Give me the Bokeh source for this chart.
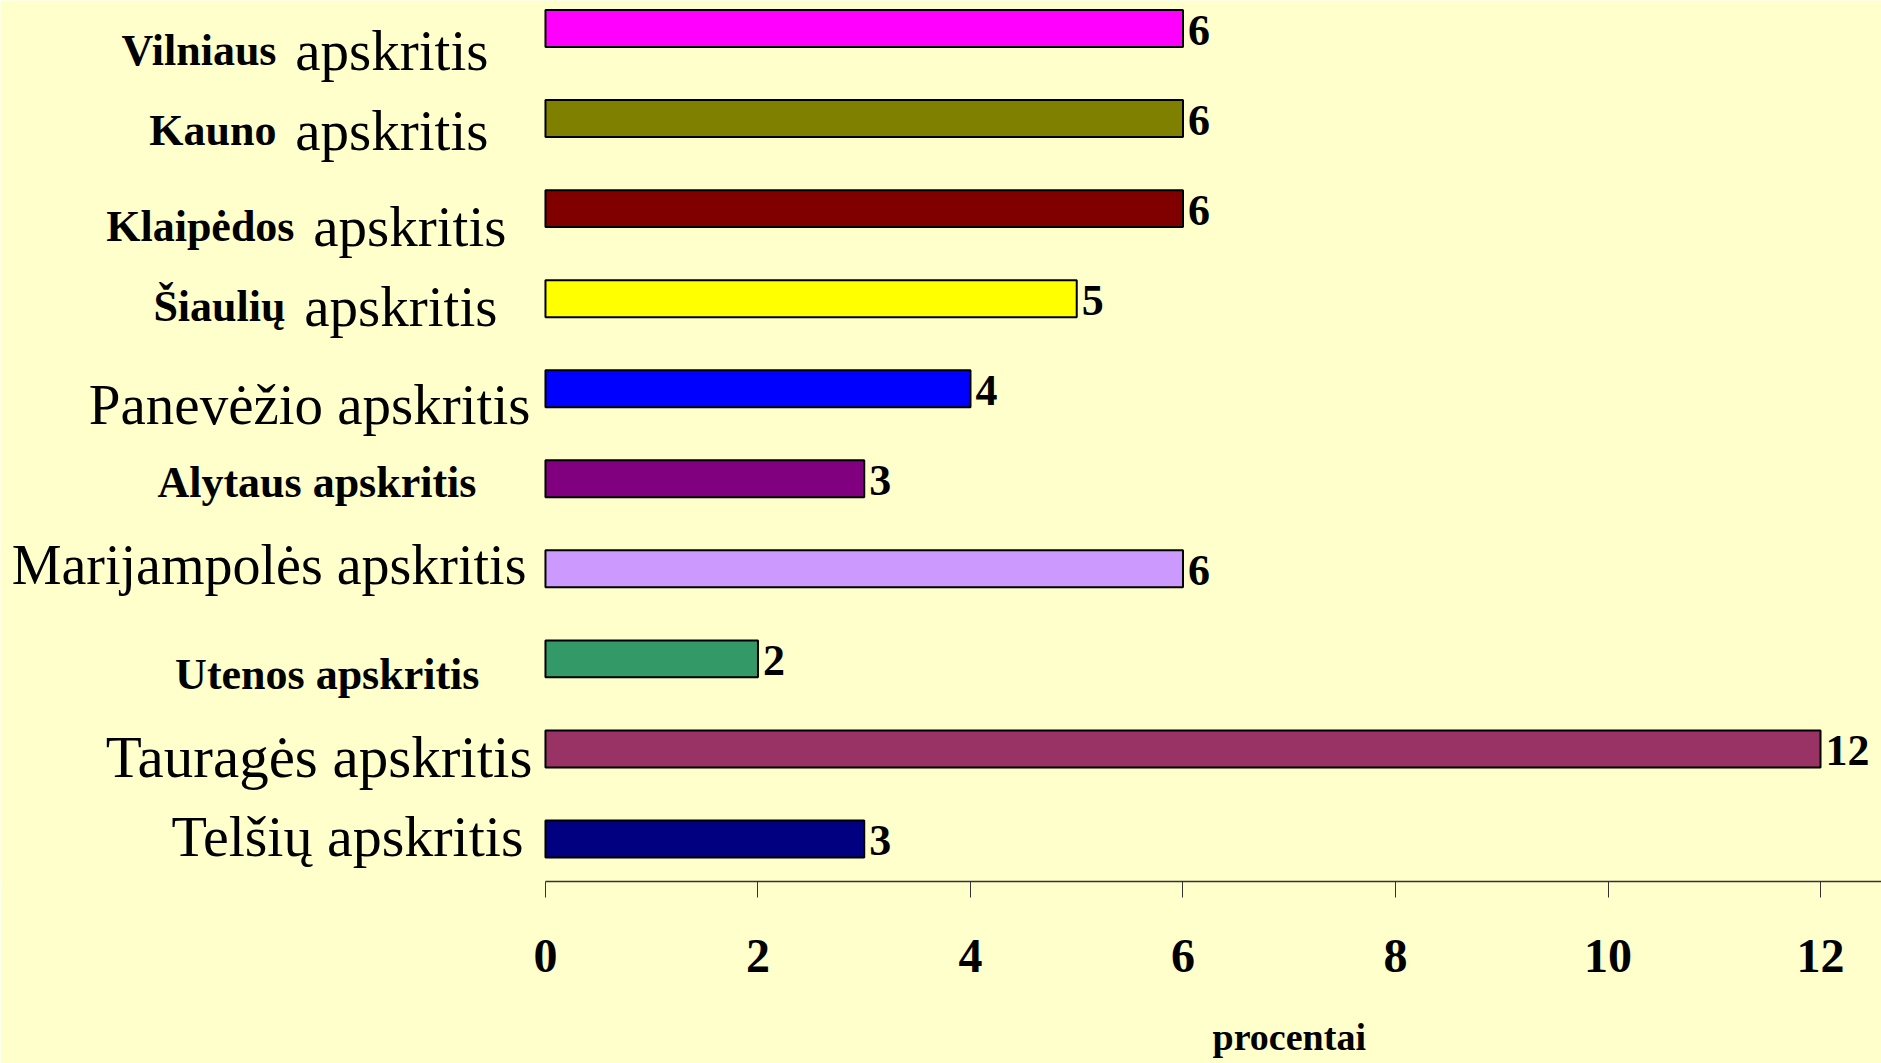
from bokeh.plotting import figure
from bokeh.models import ColumnDataSource, Range1d, FixedTicker, LinearAxis
from bokeh.core.properties import value
from bokeh.embed import file_html
from bokeh.resources import INLINE

# ---------------- data ----------------
regions = ["Vilniaus apskritis", "Kauno apskritis", "Klaipėdos apskritis",
           "Šiaulių apskritis", "Panevėžio apskritis", "Alytaus apskritis",
           "Marijampolės apskritis", "Utenos apskritis", "Tauragės apskritis",
           "Telšių apskritis"]
values = [6, 6, 6, 5, 4, 3, 6, 2, 12, 3]
bar_colors = ["#FF00FF", "#808000", "#800000", "#FFFF00", "#0000FF",
              "#800080", "#CC99FF", "#339966", "#993366", "#000080"]
# typography of the category names in the original (bold part / regular part)
bold_part = ["Vilniaus", "Kauno", "Klaipėdos", "Šiaulių", "",
             "Alytaus apskritis", "", "Utenos apskritis", "", ""]
regular_part = ["apskritis", "apskritis", "apskritis", "apskritis",
                "Panevėžio apskritis", "", "Marijampolės apskritis", "",
                "Tauragės apskritis", "Telšių apskritis"]
x_ticks = [0, 2, 4, 6, 8, 10, 12]
x_title = "procentai"

# ---------------- layout / style (not data) ----------------
label_right = [-57, -57, -39, -48, -15, -69, -19, -66, -13, -22]  # px from x=0
label_dy = [22, 12, 18, 8, 16, 4, -4, 16, 8, -2]                  # px downward
reg_size = ["57px", "57px", "57px", "57px", "57px", "57px", "56px", "57px",
            "59px", "58px"]
REG_WORD_W = 212  # width of " apskritis" in regular 57px serif
TITLE_AT = 7.0    # where the axis title is centred (x units)

n = len(regions)
pos = list(range(n - 1, -1, -1))

BG = "#FFFFCC"
X_END = 12.574
p = figure(width=1881, height=1063, output_backend="svg", toolbar_location=None,
           x_range=Range1d(-5.129, X_END), y_range=Range1d(-0.472, 9.311),
           min_border_left=0, min_border_right=0, min_border_top=0,
           min_border_bottom=182)
p.background_fill_color = BG
p.border_fill_color = BG
p.outline_line_color = None
p.grid.visible = False
p.yaxis.visible = False

src = ColumnDataSource(dict(
    y=pos, v=values, c=bar_colors, vt=[str(v) for v in values],
    zero=[0] * n, bold=bold_part, reg=regular_part, rs=reg_size,
    reg_off=label_right,
    bold_off=[r - REG_WORD_W if rg else r for r, rg in zip(label_right, regular_part)],
    dy=label_dy,
))

p.hbar(y="y", right="v", left=0, height=0.41, fill_color="c",
       line_color="black", line_width=2, source=src)

ax = p.xaxis[0]
ax.bounds = (0, X_END)
ax.ticker = FixedTicker(ticks=x_ticks)
ax.axis_line_color = "#333333"
ax.axis_line_width = 1.5
ax.major_tick_line_color = "#333333"
ax.major_tick_out = 16
ax.major_tick_in = 0
ax.minor_tick_line_color = None
ax.major_label_text_font = "Liberation Serif"
ax.major_label_text_font_style = "bold"
ax.major_label_text_font_size = "48px"
ax.major_label_text_color = "black"
ax.major_label_standoff = 42

# title axis: carries only the axis title as a single tick label
tax = LinearAxis(ticker=FixedTicker(ticks=[TITLE_AT]),
                 major_label_overrides={TITLE_AT: x_title},
                 axis_line_color=None, major_tick_line_color=None,
                 minor_tick_line_color=None,
                 major_label_text_font="Liberation Serif",
                 major_label_text_font_style="bold",
                 major_label_text_font_size="38px",
                 major_label_text_color="black",
                 major_label_standoff=35)
p.add_layout(tax, "below")

# value labels
p.text(x="v", y="y", text="vt", source=src, x_offset=5, y_offset=2,
       text_font=value("Liberation Serif"), text_font_style="bold",
       text_font_size="44px", text_baseline="middle", text_align="left",
       text_color="black")

# category names: regular part
p.text(x="zero", y="y", text="reg", source=src, x_offset="reg_off", y_offset="dy",
       text_font=value("Liberation Serif"), text_font_size="rs",
       text_baseline="alphabetic", text_align="right", text_color="black")
# category names: bold part
p.text(x="zero", y="y", text="bold", source=src, x_offset="bold_off", y_offset="dy",
       text_font=value("Liberation Serif"), text_font_style="bold",
       text_font_size="44px", text_baseline="alphabetic", text_align="right",
       text_color="black")

open("out.html", "w").write(file_html(p, INLINE))
